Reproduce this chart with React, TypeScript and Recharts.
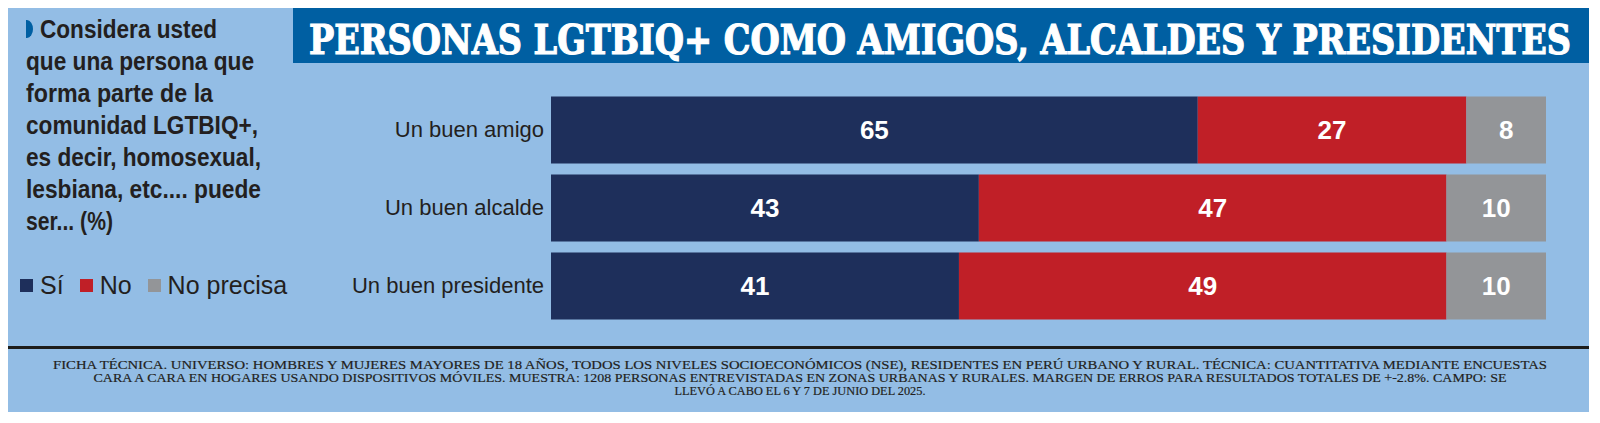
import { Bar, BarChart, LabelList, XAxis, YAxis } from "recharts"

const CATEGORIES = ["Un buen amigo", "Un buen alcalde", "Un buen presidente"]
const SI = [65, 43, 41]
const NO = [27, 47, 49]
const NO_PRECISA = [8, 10, 10]

const SERIES = [
    { key: "si", name: "Sí", color: "#1e2f5b", values: SI },
    { key: "no", name: "No", color: "#c01f27", values: NO },
    { key: "np", name: "No precisa", color: "#939598", values: NO_PRECISA },
]

const TITLE = "PERSONAS LGTBIQ+ COMO AMIGOS, ALCALDES Y PRESIDENTES"

const QUESTION = [
    "Considera usted",
    "que una persona que",
    "forma parte de la",
    "comunidad LGTBIQ+,",
    "es decir, homosexual,",
    "lesbiana, etc.... puede",
    "ser... (%)",
]
const QUESTION_WIDTHS = [177, 228, 187, 232, 235, 235, 87]

const FOOTER = [
    "FICHA TÉCNICA. UNIVERSO: HOMBRES Y MUJERES MAYORES DE 18 AÑOS, TODOS LOS NIVELES SOCIOECONÓMICOS (NSE), RESIDENTES EN PERÚ URBANO Y RURAL. TÉCNICA: CUANTITATIVA MEDIANTE ENCUESTAS",
    "CARA A CARA EN HOGARES USANDO DISPOSITIVOS MÓVILES. MUESTRA: 1208 PERSONAS ENTREVISTADAS EN ZONAS URBANAS Y RURALES. MARGEN DE ERROS PARA RESULTADOS TOTALES DE +-2.8%. CAMPO: SE",
    "LLEVÓ A CABO EL 6 Y 7 DE JUNIO DEL 2025.",
]
const FOOTER_WIDTHS = [1494, 1413, 251]

const WIDTH = 1581
const HEIGHT = 404
const INK = "#231f20"
const PANEL = "#93bde5"
const TITLE_BLUE = "#005fa2"

const data = CATEGORIES.map((label, i) => {
    const row: Record<string, string | number> = { label }
    SERIES.forEach((s) => {
        row[s.key] = s.values[i]
    })
    return row
})

const CategoryTick = ({ x, y, payload }: any) => (
    <text x={x} y={y} dy="0.35em" textAnchor="end" fontSize={22} fill={INK}>
        {payload.value}
    </text>
)

const App = () => {
    return (
        <div
            style={{
                position: "relative",
                width: WIDTH,
                height: HEIGHT,
                background: PANEL,
                fontFamily: "'Liberation Sans', Arial, sans-serif",
            }}
        >
            {/* title band */}
            <div
                style={{
                    position: "absolute",
                    left: 285,
                    top: 0,
                    width: WIDTH - 285,
                    height: 55,
                    background: TITLE_BLUE,
                }}
            />
            {/* rule above the technical note */}
            <div style={{ position: "absolute", left: 0, top: 338, width: WIDTH, height: 3, background: "#1d1d1b" }} />

            <BarChart
                style={{ position: "absolute", left: 0, top: 0 }}
                width={WIDTH}
                height={HEIGHT}
                layout="vertical"
                data={data}
                barSize={67}
                margin={{ top: 82.5, right: 43, bottom: 87.5, left: 0 }}
            >
                <XAxis type="number" domain={[0, 100]} hide />
                <YAxis
                    type="category"
                    dataKey="label"
                    width={543}
                    axisLine={false}
                    tickLine={false}
                    tickSize={0}
                    tickMargin={7}
                    tick={<CategoryTick />}
                />
                {SERIES.map((s) => (
                    <Bar key={s.key} dataKey={s.key} name={s.name} stackId="a" fill={s.color} isAnimationActive={false}>
                        <LabelList dataKey={s.key} position="center" fill="#ffffff" fontSize={26} fontWeight={700} />
                    </Bar>
                ))}
            </BarChart>

            <svg
                width={WIDTH}
                height={HEIGHT}
                style={{ position: "absolute", left: 0, top: 0, pointerEvents: "none" }}
            >
                {/* slab title, stretched a little vertically to fill the band */}
                <text
                    transform="translate(301,46) scale(1,1.1)"
                    x={0}
                    y={0}
                    fontFamily="'DejaVu Serif', serif"
                    fontStretch="condensed"
                    fontWeight={700}
                    fontSize={37}
                    fill="#ffffff"
                    stroke="#ffffff"
                    strokeWidth={1}
                    textLength={1262}
                    lengthAdjust="spacingAndGlyphs"
                >
                    {TITLE}
                </text>

                <path d="M18,12 h1 a6,9 0 0 1 0,18 h-1 Z" fill={TITLE_BLUE} />
                {QUESTION.map((line, i) => (
                    <text
                        key={line}
                        x={i === 0 ? 32 : 18}
                        y={30 + i * 32}
                        fontFamily="'Liberation Sans Narrow', 'Liberation Sans', sans-serif"
                        fontWeight={700}
                        fontSize={25}
                        fill={INK}
                        textLength={QUESTION_WIDTHS[i]}
                        lengthAdjust="spacingAndGlyphs"
                    >
                        {line}
                    </text>
                ))}

                {FOOTER.map((line, i) => (
                    <text
                        key={i}
                        x={792}
                        y={361 + i * 13}
                        textAnchor="middle"
                        fontFamily="'Liberation Serif', serif"
                        fontSize={13.5}
                        fill={INK}
                        stroke={INK}
                        strokeWidth={0.2}
                        textLength={FOOTER_WIDTHS[i]}
                        lengthAdjust="spacingAndGlyphs"
                    >
                        {line}
                    </text>
                ))}
            </svg>

            {/* legend */}
            <div
                style={{
                    position: "absolute",
                    left: 12,
                    top: 265,
                    display: "flex",
                    alignItems: "center",
                    fontSize: 25,
                    lineHeight: "25px",
                    color: INK,
                }}
            >
                {SERIES.map((s) => (
                    <div key={s.key} style={{ display: "flex", alignItems: "center", marginRight: 16 }}>
                        <span style={{ width: 13, height: 13, background: s.color, marginRight: 7 }} />
                        <span>{s.name}</span>
                    </div>
                ))}
            </div>
        </div>
    )
}

export default App
